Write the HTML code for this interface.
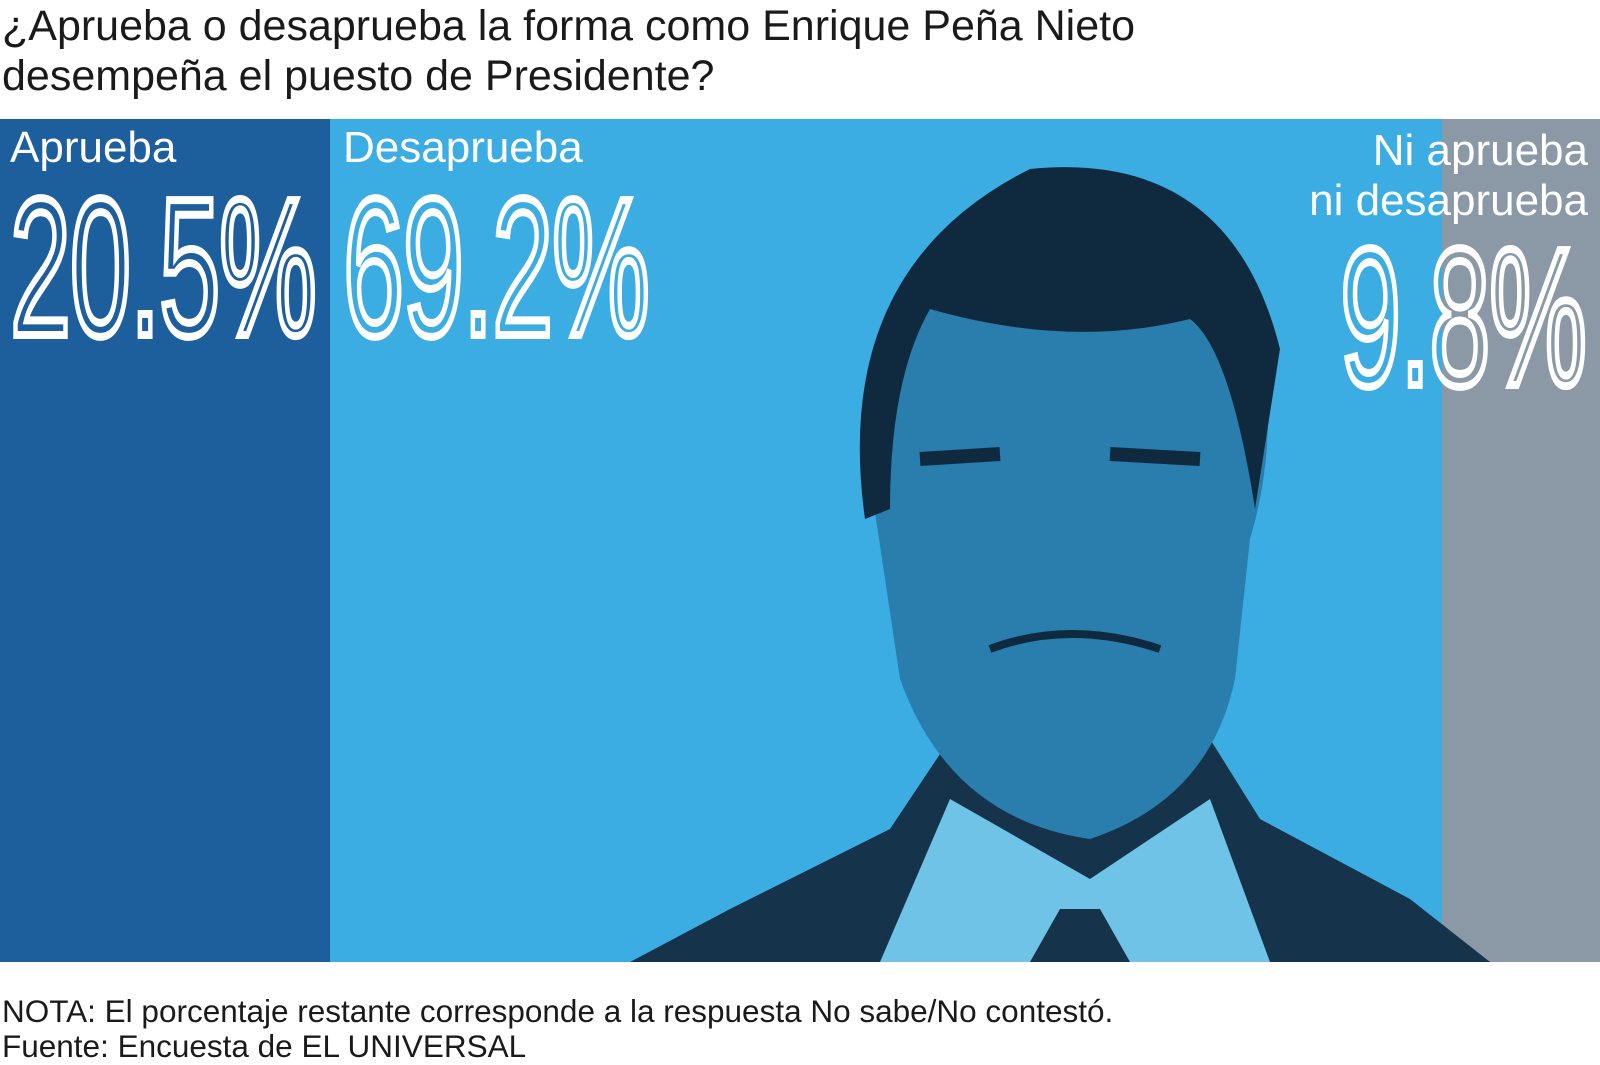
<!DOCTYPE html>
<html><head><meta charset="utf-8"><style>
body{margin:0;width:1600px;height:1063px;background:#fff;position:relative;overflow:hidden;font-family:"Liberation Sans",sans-serif}
.t{position:absolute;left:2px;font-size:43px;color:#1a1a1a;line-height:48px}
.bar{position:absolute;top:119px;height:843px}
.lab{position:absolute;color:#fff;font-size:44px}
.num{position:absolute;font-family:"Liberation Sans Narrow","Liberation Sans",sans-serif;font-size:196px;color:transparent;-webkit-text-stroke:8px #fff;transform-origin:0 0;transform:scaleX(0.56);letter-spacing:-2px;line-height:1;white-space:nowrap}
.n{position:absolute;left:2px;font-size:31.5px;color:#1a1a1a}
</style></head><body>
<div class="t" style="top:2px">¿Aprueba o desaprueba la forma como Enrique Peña Nieto</div>
<div class="t" style="top:52px">desempeña el puesto de Presidente?</div>
<div class="bar" style="left:0;width:330px;background:#1d5e9c"></div>
<div class="bar" style="left:330px;width:1112px;background:#3bade2"></div>
<div class="bar" style="left:1442px;width:158px;background:#8a99a5"></div>
<svg style="position:absolute;left:330px;top:119px" width="1270" height="843">
<path d="M300 843 L400 790 L560 710 L620 620 L880 620 L930 700 L1080 780 L1160 843Z" fill="#15334a"/>
<path d="M550 843 L620 680 L760 760 L880 680 L940 843Z" fill="#6ec3e6"/>
<path d="M700 843 L730 790 L770 790 L800 843Z" fill="#15334a"/>
<path d="M540 360 Q520 160 700 60 Q860 40 930 210 Q950 320 920 420 L905 560 Q880 680 760 720 Q620 700 570 560Z" fill="#2a7eae"/>
<path d="M535 400 Q500 150 700 50 Q900 30 950 230 L925 390 Q900 230 860 200 Q740 230 600 190 Q560 260 560 390Z" fill="#0f2a3e"/>
<path d="M590 340 L670 335 M780 335 L870 340" stroke="#0f2a3e" stroke-width="14"/>
<path d="M660 530 Q740 500 830 530" stroke="#0f2a3e" stroke-width="8" fill="none"/>
</svg>
<div class="lab" style="left:10px;top:123px">Aprueba</div>
<div class="lab" style="left:343px;top:123px">Desaprueba</div>
<div class="lab" style="right:12px;top:126px;text-align:right;line-height:50px">Ni aprueba<br>ni desaprueba</div>
<div class="num" style="left:10px;top:170px">20.5%</div>
<div class="num" style="left:343px;top:170px">69.2%</div>
<div class="num" style="right:14px;top:220px;transform-origin:100% 0">9.8%</div>
<div class="n" style="top:993px">NOTA: El porcentaje restante corresponde a la respuesta No sabe/No contestó.</div>
<div class="n" style="top:1028px">Fuente: Encuesta de EL UNIVERSAL</div>
</body></html>
